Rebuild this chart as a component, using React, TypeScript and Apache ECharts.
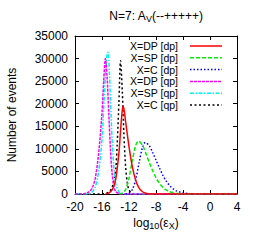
import React, { useEffect, useRef } from "react";
import * as echarts from "echarts";

const xTicks = { min: -20, max: 4, interval: 4 };
const yTicks = { min: 0, max: 35000, interval: 5000 };

const seriesNames = ["X=DP [dp]", "X=SP [dp]", "X=C [dp]", "X=DP [qp]", "X=SP [qp]", "X=C [qp]"];
const seriesColors = ["#ff0000", "#00ee00", "#0000ff", "#ff00ff", "#00f0f0", "#000000"];
const seriesDash: (number[] | "solid")[] = ["solid", [4, 2], [1.5, 2], [3, 1], [4, 1.5, 1.5, 1.5], [2, 2.5]];

const dpDP_x = [-15.5, -15, -14.5, -14, -13.5, -13.25, -13, -12.85, -12.5, -12, -11.5, -11, -10.5, -10, -9.5, -9, 4];
const dpDP_y = [0, 200, 900, 3000, 9000, 14000, 18500, 19500, 16000, 10500, 6000, 3000, 1300, 500, 150, 0, 0];

const dpSP_x = [-13.5, -13, -12.5, -12, -11.5, -11, -10.6, -10, -9.5, -9, -8.5, -8, -7.5, -7, -6.5, -6, -5, -4, -3, 4];
const dpSP_y = [0, 200, 1000, 3500, 7500, 10800, 11700, 10800, 9000, 7000, 5200, 3600, 2400, 1500, 900, 500, 150, 30, 0, 0];

const dpC_x = [-12.5, -12, -11.5, -11, -10.5, -10, -9.6, -9, -8.5, -8, -7.5, -7, -6.5, -6, -5.5, -5, -4, -3, -2, -1, 4];
const dpC_y = [0, 200, 1000, 3200, 7000, 10300, 11400, 10700, 9200, 7500, 5800, 4200, 2900, 1900, 1200, 700, 250, 80, 20, 0, 0];

const qpDP_x = [-20, -19, -18.5, -18, -17.5, -17, -16.5, -16, -15.75, -15.5, -15.25, -15, -14.75, -14.5, -14.25, -14, -13.5, -13, 4];
const qpDP_y = [0, 0, 100, 400, 1200, 3500, 9000, 18000, 25000, 30000, 26000, 18000, 10000, 4500, 1800, 600, 100, 0, 0];

const qpSP_x = [-20, -18, -17.5, -17, -16.5, -16, -15.75, -15.5, -15.25, -15.1, -14.9, -14.75, -14.5, -14.25, -14, -13.5, -13, -12.5, 4];
const qpSP_y = [0, 0, 400, 1500, 5000, 12000, 19000, 26000, 31000, 31400, 27000, 21000, 12000, 6000, 2500, 500, 100, 0, 0];

const qpC_x = [-20, -16, -15.5, -15, -14.5, -14, -13.75, -13.5, -13.25, -13, -12.75, -12.5, -12.25, -12, -11.5, -11, 4];
const qpC_y = [0, 0, 100, 400, 1500, 5000, 11000, 20000, 29500, 23000, 13000, 6000, 2500, 900, 150, 0, 0];

const allX = [dpDP_x, dpSP_x, dpC_x, qpDP_x, qpSP_x, qpC_x];
const allY = [dpDP_y, dpSP_y, dpC_y, qpDP_y, qpSP_y, qpC_y];

const FONT = "Liberation Sans, Arial, Helvetica, sans-serif";

export default function App() {
  const ref = useRef<HTMLDivElement>(null);
  useEffect(() => {
    if (!ref.current) return;
    const chart = echarts.init(ref.current, null, { renderer: "svg" });
    const gridL = 75, gridR = 21, gridT = 36, gridB = 48;
    const tickStyle = { show: true, inside: true, length: 4, lineStyle: { color: "#000", width: 1 } };
    const series: any[] = seriesNames.map((name, i) => ({
      name,
      type: "line",
      data: allX[i].map((x, j) => [x, allY[i][j]]),
      showSymbol: false,
      smooth: 0.3,
      lineStyle: { color: seriesColors[i], width: 1.5, type: seriesDash[i] },
      z: 10 - i,
    }));
    const legendGraphics: any[] = [];
    seriesNames.forEach((name, i) => {
      const y = 46 + i * 11.8;
      legendGraphics.push({
        type: "text",
        x: 178,
        y,
        style: { text: name, fill: "#000", font: `10.5px ${FONT}`, textAlign: "right", textVerticalAlign: "middle" },
      });
      legendGraphics.push({
        type: "line",
        shape: { x1: 190, y1: y, x2: 222, y2: y },
        style: { stroke: seriesColors[i], lineWidth: 1.5, lineDash: seriesDash[i] === "solid" ? null : seriesDash[i] },
      });
    });
    chart.setOption({
      animation: false,
      grid: { left: gridL, right: gridR, top: gridT, bottom: gridB },
      xAxis: [
        {
          type: "value", ...xTicks,
          axisLine: { show: true, onZero: false, lineStyle: { color: "#000", width: 1 } },
          axisTick: tickStyle,
          axisLabel: { color: "#000", fontSize: 12, fontFamily: FONT, margin: 7 },
          splitLine: { show: false },
        },
        {
          type: "value", position: "top", ...xTicks,
          axisLine: { show: true, onZero: false, lineStyle: { color: "#000", width: 1 } },
          axisTick: tickStyle,
          axisLabel: { show: false },
          splitLine: { show: false },
        },
      ],
      yAxis: [
        {
          type: "value", ...yTicks,
          axisLine: { show: true, onZero: false, lineStyle: { color: "#000", width: 1 } },
          axisTick: tickStyle,
          axisLabel: { color: "#000", fontSize: 12, fontFamily: FONT, margin: 7, formatter: (v: number) => String(v) },
          splitLine: { show: false },
        },
        {
          type: "value", position: "right", ...yTicks,
          axisLine: { show: true, onZero: false, lineStyle: { color: "#000", width: 1 } },
          axisTick: tickStyle,
          axisLabel: { show: false },
          splitLine: { show: false },
        },
      ],
      series,
      graphic: [
        {
          type: "text",
          x: 156,
          y: 16,
          style: {
            text: "{a|N=7: A}{s|V}{a|(--+++++)}",
            textAlign: "center",
            textVerticalAlign: "middle",
            rich: {
              a: { font: `12px ${FONT}`, fill: "#000" },
              s: { font: `9px ${FONT}`, fill: "#000", padding: [6, 0, 0, 0] },
            },
          },
        },
        {
          type: "text",
          x: 156,
          y: 223,
          style: {
            text: "{a|log}{s|10}{a|(ε}{s|X}{a|)}",
            textAlign: "center",
            textVerticalAlign: "middle",
            rich: {
              a: { font: `12px ${FONT}`, fill: "#000" },
              s: { font: `9px ${FONT}`, fill: "#000", padding: [6, 0, 0, 0] },
            },
          },
        },
        {
          type: "text",
          x: 12,
          y: 115,
          rotation: Math.PI / 2,
          style: {
            text: "Number of events",
            font: `12px ${FONT}`,
            fill: "#000",
            textAlign: "center",
            textVerticalAlign: "middle",
          },
        },
        ...legendGraphics,
      ],
    });
    return () => chart.dispose();
  }, []);
  return <div ref={ref} style={{ width: 258, height: 242, position: "absolute", left: 0, top: 0 }} />;
}
